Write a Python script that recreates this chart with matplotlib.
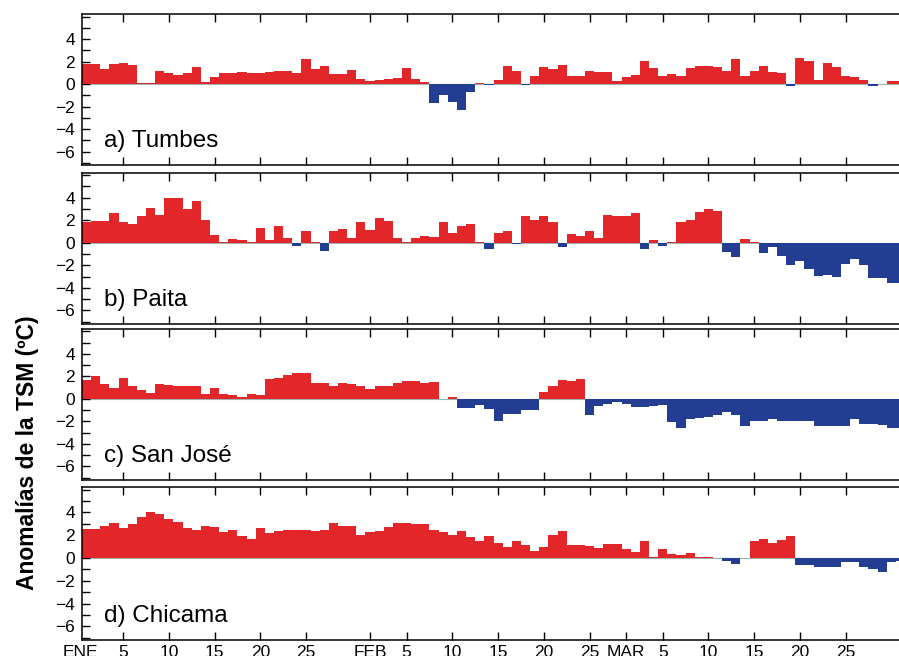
import matplotlib.pyplot as plt
import numpy as np
from matplotlib.ticker import MultipleLocator

# anomalias diarias de TSM, 1 ene - 31 mar
dias = np.arange(1, 91)

tumbes = [1.75, 1.75, 1.3, 1.8, 1.85, 1.7, 0.05, 0.05, 1.2, 1.0,
          0.8, 1.0, 1.5, 0.2, 0.6, 1.0, 1.0, 1.05, 1.0, 1.0,
          1.05, 1.15, 1.15, 1.0, 2.25, 1.3, 1.6, 0.9, 0.9, 1.25,
          0.45, 0.3, 0.35, 0.45, 0.5, 1.45, 0.45, 0.15, -1.7, -1.0,
          -1.6, -2.3, -0.7, 0.1, -0.1, 0.35, 1.6, 1.15, -0.1, 0.75,
          1.55, 1.3, 1.7, 0.7, 0.7, 1.15, 1.05, 1.05, 0.3, 0.65,
          0.8, 2.05, 1.4, 0.7, 0.9, 0.7, 1.45, 1.6, 1.6, 1.55,
          1.15, 2.2, 0.7, 1.2, 1.6, 1.05, 0.95, -0.15, 2.3, 2.05,
          0.4, 1.9, 1.55, 0.75, 0.65, 0.35, -0.2, 0.0, 0.25, 0.25]

paita = [1.85, 1.9, 1.95, 2.6, 1.8, 1.65, 2.4, 3.05, 2.45, 3.95,
         4.0, 3.0, 3.65, 2.05, 0.7, 0.1, 0.3, 0.25, 0.05, 1.3,
         0.25, 1.5, 0.45, -0.3, 1.05, 0.1, -0.7, 1.0, 1.2, 0.4,
         1.85, 1.1, 2.15, 1.95, 0.45, 0.1, 0.4, 0.6, 0.5, 1.85,
         0.85, 1.5, 1.7, 0.05, -0.55, 0.85, 1.05, -0.1, 2.35, 2.0,
         2.35, 1.8, -0.4, 0.75, 0.55, 1.0, 0.45, 2.45, 2.4, 2.4,
         2.6, -0.6, 0.25, -0.3, 0.1, 1.8, 2.0, 2.7, 2.95, 2.8,
         -0.8, -1.25, 0.3, 0.02, -0.9, -0.35, -1.2, -2.0, -1.6, -2.3,
         -2.95, -2.9, -3.0, -1.85, -1.4, -2.0, -3.15, -3.15, -3.55, -3.55]

san_jose = [1.65, 2.0, 1.3, 1.0, 1.85, 1.15, 0.8, 0.55, 1.35, 1.2,
            1.15, 1.15, 1.15, 0.45, 0.95, 0.45, 0.35, 0.15, 0.45, 0.3,
            1.8, 1.85, 2.15, 2.3, 2.3, 1.45, 1.45, 1.1, 1.45, 1.3,
            1.1, 0.9, 1.15, 1.15, 1.45, 1.6, 1.55, 1.45, 1.5, 0.03,
            0.15, -0.8, -0.8, -0.55, -0.9, -2.0, -1.3, -1.3, -1.0, -0.95,
            0.6, 1.1, 1.7, 1.6, 1.8, -1.45, -0.6, -0.45, -0.3, -0.5,
            -0.75, -0.7, -0.65, -0.55, -2.05, -2.6, -1.8, -1.7, -1.6, -1.4,
            -1.2, -1.4, -2.4, -2.0, -1.95, -1.8, -1.95, -1.95, -1.95, -1.95,
            -2.4, -2.45, -2.45, -2.4, -1.75, -2.2, -2.25, -2.35, -2.6, -2.6]

chicama = [2.5, 2.5, 2.8, 3.1, 2.65, 2.95, 3.6, 4.05, 3.85, 3.45,
           3.15, 2.65, 2.45, 2.8, 2.75, 2.3, 2.45, 1.95, 1.7, 2.65,
           2.15, 2.35, 2.45, 2.45, 2.45, 2.35, 2.45, 3.1, 2.8, 2.8,
           2.05, 2.3, 2.35, 2.75, 3.1, 3.1, 2.95, 2.95, 2.45, 2.3,
           2.05, 2.35, 1.8, 1.5, 1.95, 1.3, 1.0, 1.5, 1.1, 0.65,
           1.0, 2.0, 2.35, 1.1, 1.1, 1.05, 0.9, 1.25, 1.25, 0.8,
           0.55, 1.5, 0.05, 0.75, 0.35, 0.25, 0.45, 0.05, 0.05, 0.0,
           -0.3, -0.55, 0.02, 1.5, 1.7, 1.35, 1.55, 1.95, -0.6, -0.6,
           -0.8, -0.8, -0.8, -0.35, -0.35, -0.8, -1.0, -1.2, -0.35, -0.3]

estaciones = ["a) Tumbes", "b) Paita", "c) San José", "d) Chicama"]
series = [tumbes, paita, san_jose, chicama]

xticks = [5, 10, 15, 20, 25, 32, 36, 41, 46, 51, 56, 60, 64, 69, 74, 79, 84]
xlabels = ["5", "10", "15", "20", "25", "FEB", "5", "10", "15", "20", "25",
           "MAR", "5", "10", "15", "20", "25"]

rojo = "#e2262a"
azul = "#233d93"

plt.rcParams["font.family"] = ["Liberation Sans", "DejaVu Sans"]

W, H = 899, 656
fig = plt.figure(figsize=(W / 100, H / 100), dpi=100)

tops = [14.3, 172.7, 329, 487.3]
bots = [165, 324, 480, 640]
izq, der = 82, 905

for i in range(4):
    ax = fig.add_axes([izq / W, 1 - bots[i] / H, (der - izq) / W, (bots[i] - tops[i]) / H])
    v = np.array(series[i])
    colores = np.where(v >= 0, rojo, azul)
    ax.axhline(0, color="#9fb5b5", lw=0.8, zorder=1)
    ax.bar(dias, v, width=1.0, color=colores, linewidth=0, zorder=2)
    ax.set_xlim(0.5, 90.5)
    ax.set_ylim(-7.2, 6.2)
    ax.set_yticks([-6, -4, -2, 0, 2, 4])
    ax.yaxis.set_minor_locator(MultipleLocator(1))
    ax.set_xticks(xticks)
    ax.tick_params(axis="both", which="both", direction="in", length=6,
                   width=1, top=True, right=False, labelsize=12.5)
    ax.tick_params(axis="y", pad=5)
    ax.tick_params(axis="x", pad=3.6)
    for s in ax.spines.values():
        s.set_linewidth(1.1)
    ax.text(2.9, -5.1, estaciones[i], fontsize=17.5, va="center", ha="left")
    if i == 3:
        ax.set_xticklabels(xlabels)
        ax.text(0.3, -0.033, "ENE", transform=ax.get_xaxis_transform(),
                fontsize=12.5, ha="center", va="top", clip_on=False)
    else:
        ax.set_xticklabels([])

fig.text(28 / W, 1 - 453 / H, "Anomalías de la TSM (ºC)", rotation=90,
         fontsize=16.5, fontweight="bold", ha="center", va="center")

fig.savefig("out.png", dpi=100)
